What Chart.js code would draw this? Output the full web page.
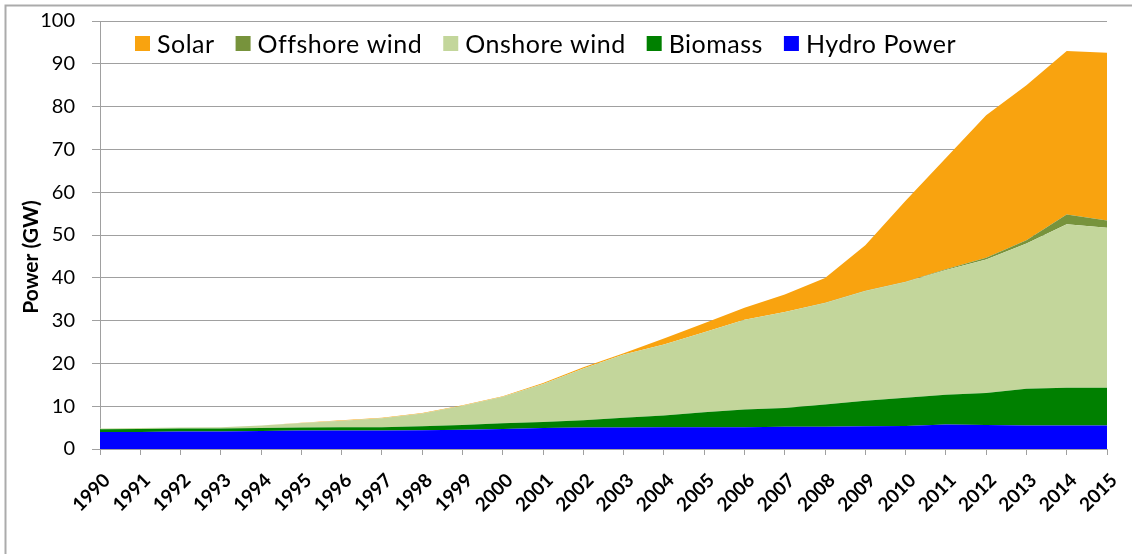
<!DOCTYPE html>
<html>
<head>
<meta charset="utf-8">
<script src="https://cdn.jsdelivr.net/npm/chart.js@4.4.1/dist/chart.umd.min.js"></script>
<style>
  html, body { margin: 0; padding: 0; background: #ffffff; }
  #wrap { width: 1132px; height: 554px; position: relative; }
</style>
</head>
<body>
<div id="wrap"><canvas id="c" width="1132" height="554"></canvas></div>
<script>
const years = ['1990','1991','1992','1993','1994','1995','1996','1997','1998','1999','2000','2001','2002','2003','2004','2005','2006','2007','2008','2009','2010','2011','2012','2013','2014','2015'];
const hydro    = [4.0,4.0,4.1,4.1,4.2,4.3,4.3,4.3,4.4,4.5,4.7,4.9,5.0,5.0,5.1,5.1,5.1,5.2,5.2,5.3,5.4,5.7,5.6,5.5,5.5,5.5];
const biomass  = [0.6,0.7,0.7,0.7,0.7,0.7,0.8,0.8,0.9,1.1,1.3,1.4,1.7,2.3,2.7,3.5,4.1,4.4,5.2,6.0,6.6,7.0,7.5,8.6,8.8,8.8];
const onshore  = [0.2,0.2,0.2,0.3,0.6,1.1,1.5,2.1,3.0,4.5,6.2,8.9,12.1,14.8,16.6,18.7,21.0,22.4,23.7,25.6,27.0,29.1,31.2,33.9,38.2,37.4];
const offshore = [0,0,0,0,0,0,0,0,0,0,0,0,0,0,0,0,0,0,0.05,0.1,0.1,0.2,0.4,0.8,2.3,1.7];
const solar    = [0,0,0,0,0,0.05,0.1,0.1,0.1,0.1,0.1,0.2,0.3,0.3,1.4,2.1,2.8,4.1,5.8,10.6,18.9,26.0,33.3,36.2,38.2,39.2];
const yTicks   = [0,10,20,30,40,50,60,70,80,90,100];
const seriesNames = ['Hydro Power','Biomass','Onshore wind','Offshore wind','Solar'];
const seriesColors = ['#0000FF','#008000','#C3D69B','#77933C','#F9A30F'];
const yTitle = 'Power (GW)';

const seriesData = [hydro, biomass, onshore, offshore, solar];

const frame = {
  id: 'frame',
  beforeDraw(chart) {
    const ctx = chart.ctx;
    ctx.save();
    ctx.fillStyle = '#ffffff';
    ctx.fillRect(0, 0, chart.width, chart.height);
    ctx.strokeStyle = '#ababab';
    ctx.lineWidth = 2;
    ctx.beginPath();
    ctx.moveTo(5.5, chart.height);
    ctx.lineTo(5.5, 5.5);
    ctx.lineTo(chart.width, 5.5);
    ctx.stroke();
    ctx.restore();
  },
  afterDraw(chart) {
    const ctx = chart.ctx;
    ctx.save();
    // y-axis title
    ctx.font = 'bold 21px Lato';
    ctx.fillStyle = '#000000';
    ctx.textAlign = 'center';
    ctx.textBaseline = 'middle';
    ctx.translate(31, 257);
    ctx.rotate(-Math.PI / 2);
    ctx.fillText(yTitle, 0, 0);
    ctx.restore();

    // horizontal legend inside the plot area (reverse dataset order)
    ctx.save();
    ctx.font = '25px Lato';
    try { ctx.letterSpacing = '0.5px'; } catch (e) {}
    ctx.textBaseline = 'middle';
    ctx.textAlign = 'left';
    let x = chart.chartArea.left + 35;
    const cy = 44;
    const items = chart.data.datasets.map(d => ({ text: d.label, color: d.backgroundColor })).reverse();
    items.forEach(it => {
      ctx.fillStyle = it.color;
      ctx.fillRect(x, cy - 8, 15, 15);
      x += 15 + 7;
      ctx.fillStyle = '#000000';
      ctx.fillText(it.text, x, cy + 1);
      x += ctx.measureText(it.text).width + 21;
    });
    ctx.restore();
  }
};

function build() {
  const datasets = seriesData.map((d, i) => ({
    label: seriesNames[i],
    data: d,
    backgroundColor: seriesColors[i],
    borderColor: seriesColors[i],
    borderWidth: 0,
    pointRadius: 0,
    pointHoverRadius: 0,
    tension: 0,
    fill: i === 0 ? 'origin' : '-1'
  }));

  new Chart(document.getElementById('c'), {
    type: 'line',
    data: { labels: years, datasets },
    plugins: [frame],
    options: {
      responsive: false,
      animation: false,
      events: [],
      layout: { padding: { top: 21, right: 25, bottom: 0, left: 8 } },
      plugins: {
        legend: { display: false },
        tooltip: { enabled: false },
        title: { display: false }
      },
      scales: {
        x: {
          offset: false,
          afterFit(scale) { scale.height = 105; scale.paddingRight = 0; scale.paddingLeft = 0; },
          grid: { display: true, drawOnChartArea: false, drawTicks: true, tickLength: 6, color: '#a0a0a0', lineWidth: 1 },
          border: { display: true, color: '#a0a0a0', width: 1 },
          ticks: {
            autoSkip: false,
            minRotation: 45,
            maxRotation: 45,
            padding: 14,
            labelOffset: 7,
            color: '#000000',
            font: { family: 'Lato', size: 19, weight: 'bold' }
          }
        },
        y: {
          stacked: true,
          min: 0,
          max: 100,
          afterFit(scale) { scale.width = 92; scale.paddingTop = 0; scale.paddingBottom = 0; },
          afterBuildTicks(scale) { scale.ticks = yTicks.map(v => ({ value: v })); },
          grid: { color: '#a0a0a0', lineWidth: 1, tickLength: 8, drawTicks: true },
          border: { display: true, color: '#a0a0a0', width: 1 },
          ticks: {
            padding: 17,
            color: '#000000',
            font: { family: 'Lato', size: 20 }
          },
          title: { display: false }
        }
      }
    }
  });
}

Promise.all([
  document.fonts.load('20px Lato'),
  document.fonts.load('bold 16px Lato'),
  document.fonts.load('25px Lato')
]).then(build, build);
</script>
</body>
</html>
